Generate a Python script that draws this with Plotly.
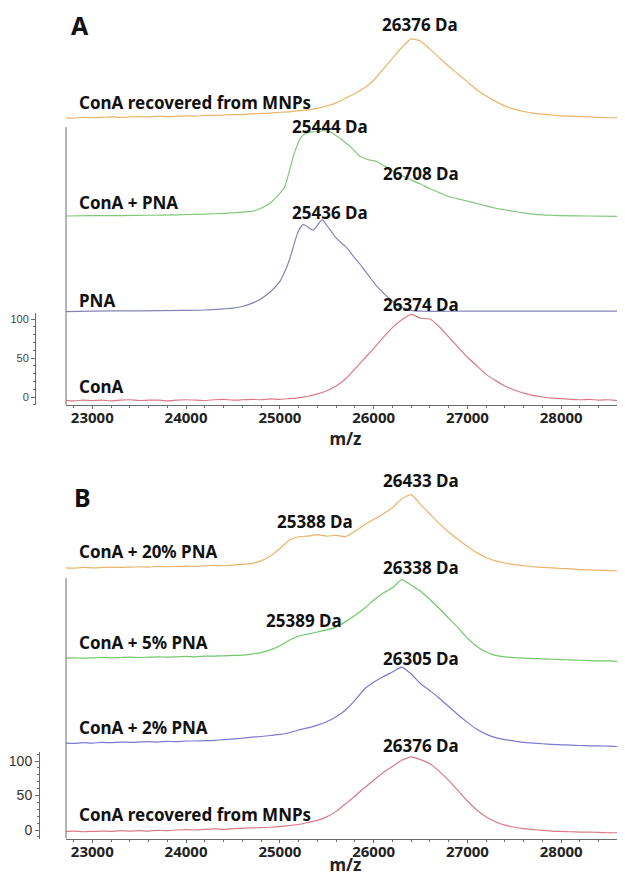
import plotly.graph_objects as go

# ---------------- data ----------------
MZ = [22700 + 100 * i for i in range(61)]  # common m/z grid (22700..28700)

# Panel A
A_CONA = [-4, -5, -4, -4.5, -4, -5, -4, -3.5, -4.5, -4, -4, -5, -4, -3.5, -4, -4.5, -3.5, -3, -4, -3.5,
          -3, -3.5, -2.5, -3, -2, -1, 1, 4, 8, 14, 23, 36, 49, 62, 76, 89, 99, 106, 101, 100,
          90, 77, 64, 51, 40, 29, 21, 14, 9, 5, 2, 0, -1.5, -2, -3, -3.5, -3, -4, -3.5, -4.5, -4]
A_PNA_X = [22700, 23000, 23500, 24000, 24200, 24400, 24500, 24600, 24700, 24800, 24900, 25000, 25050,
           25100, 25150, 25200, 25250, 25300, 25350, 25400, 25450, 25500, 25550, 25600, 25650, 25700,
           25750, 25800, 25850, 25900, 25950, 26000, 26050, 26100, 26150, 26200, 26250, 26300, 26350,
           26400, 26500, 27000, 28000, 28700]
A_PNA = [-0.5, 0, 0.5, 1, 1.5, 3, 4, 6, 10, 16, 25, 38, 50,
         65, 85, 103, 111, 108, 104, 110, 117, 110, 102, 94, 88, 83,
         76, 68, 61, 53, 45, 37, 30, 24, 18, 13, 8, 5, 3,
         1, 0, 0, 0, 0]
A_MIX_X = [22700, 23000, 23300, 23600, 23900, 24200, 24400, 24600, 24700, 24800, 24900, 25000, 25050,
           25100, 25150, 25200, 25250, 25300, 25350, 25400, 25450, 25500, 25550, 25600, 25650, 25700,
           25750, 25800, 25850, 25900, 25950, 26000, 26050, 26100, 26200, 26300, 26400, 26500, 26600,
           26700, 26800, 26900, 27000, 27100, 27200, 27300, 27400, 27500, 27600, 27700, 27800, 27900,
           28000, 28300, 28700]
A_MIX = [0, 0.5, 0.5, 1, 1.5, 2.5, 3.5, 5, 6, 10, 17, 29, 37,
         57, 79, 95, 104, 107, 108, 108.5, 109, 110, 107, 103, 99, 94,
         89, 83, 77, 74, 72, 71, 69, 65, 58, 52, 46, 41, 35,
         30, 25, 22, 19, 16, 13, 10, 8, 6, 4, 2.5, 1.5, 1,
         0.5, 0, -0.5]
A_RECOV = [0, -0.5, 0.5, 0, 0.5, 1, 0.5, 1, 1.5, 1, 2, 1.5, 2, 2.5, 2, 3, 3, 3.5, 4, 4,
           5, 5.5, 6, 7, 7.5, 9, 10, 12, 15, 19, 25, 31, 38, 48, 62, 76, 90, 101, 98, 88,
           77, 66, 56, 46, 36, 28, 21, 15, 11, 8, 6, 4.5, 3.5, 2.5, 2, 1.5, 1, 0.5, 0, 0, -0.5]

# Panel B
B_RECOV = [-2, -1.5, -2.5, -2, -1.5, -2, -1, -1.5, -1, -1.5, -0.5, -1, 0, 0.5, 0, 1, 1.5, 1, 2, 2.5,
           3, 3.5, 4, 5, 6.5, 8, 11, 14, 19, 27, 38, 49, 61, 72, 83, 92, 101, 106, 102, 96,
           85, 72, 57, 42, 29, 19, 12, 7, 4, 2, 0.5, -0.5, -1.5, -2, -2.5, -3, -3, -3.5, -4, -4, -4.5]
B_2PNA = [0, -0.5, 0.5, 0, 1, 0.5, 1.5, 1, 1.5, 2, 1.5, 2.5, 2, 3, 3, 3.5, 4, 5, 6, 7,
          8.5, 9.5, 11, 12.5, 15, 19, 22, 26, 31, 38, 48, 62, 78, 88, 96, 103, 110, 100, 86, 76,
          65, 53, 41, 30, 20, 13, 8, 5, 3, 1, 0, -1, -2, -2.5, -3, -3.5, -4, -4, -4.5, -5, -5]
B_5PNA = [0, 0.5, 0, 0.5, 1, 0.5, 1, 1.5, 1, 1.5, 2, 1.5, 2, 2.5, 2, 3, 3, 3.5, 4, 4.5,
          6, 8, 12, 18, 26, 32, 35, 38, 41, 45, 53, 62, 72, 84, 94, 102, 114, 106, 97, 85,
          72, 58, 44, 29, 17, 9, 4, 2, 1, 0, -0.5, -1, -1.5, -2, -2.5, -3, -3.5, -4, -4, -4.5, -5]
B_20PNA = [0, -0.5, 0.5, 0, 0.5, 1, 0.5, 1, 1.5, 1, 2, 1.5, 2, 2.5, 2, 3, 3.5, 3, 4, 5,
           6.5, 10, 17, 28, 40, 45, 46, 48, 46, 47, 45, 53, 62, 70, 78, 87, 100, 106, 92, 78,
           64, 52, 41, 31, 22, 15, 10, 7, 4.5, 3, 1.5, 0.5, 0, -1, -1.5, -2.5, -3, -3.5, -4, -4.5, -5]

# series: (name, x, y, vertical offset, colour, panel)
SERIES = [
    ("ConA", MZ, A_CONA, 0, "#d97b86", "A"),
    ("PNA", A_PNA_X, A_PNA, 110, "#8585b5", "A"),
    ("ConA + PNA", A_MIX_X, A_MIX, 232, "#80c878", "A"),
    ("ConA recovered from MNPs", MZ, A_RECOV, 358, "#eab46a", "A"),
    ("ConA recovered from MNPs", MZ, B_RECOV, 0, "#d97b86", "B"),
    ("ConA + 2% PNA", MZ, B_2PNA, 126, "#7a7ad0", "B"),
    ("ConA + 5% PNA", MZ, B_5PNA, 249, "#72c86a", "B"),
    ("ConA + 20% PNA", MZ, B_20PNA, 380, "#eab46a", "B"),
]

# trace labels (left) and peak labels
NAME_LABELS_A = [("ConA recovered from MNPs", 378), ("ConA + PNA", 249), ("PNA", 124), ("ConA", 13)]
PEAK_LABELS_A = [("26376 Da", 26494, 477), ("25444 Da", 25535, 347), ("26708 Da", 26505, 287),
                 ("25436 Da", 25535, 237), ("26374 Da", 26505, 119)]
NAME_LABELS_B = [("ConA + 20% PNA", 403), ("ConA + 5% PNA", 272), ("ConA + 2% PNA", 149),
                 ("ConA recovered from MNPs", 22)]
PEAK_LABELS_B = [("26433 Da", 26505, 507), ("25388 Da", 25375, 447), ("26338 Da", 26505, 380),
                 ("25389 Da", 25258, 304), ("26305 Da", 26505, 249), ("26376 Da", 26505, 123)]
X_TICKS = [23000, 24000, 25000, 26000, 27000, 28000]
Y_TICKS = [0, 50, 100]

# ---------------- figure ----------------
PAD = 8                      # page body margin of the browser
W, H = 625 - PAD, 876 - PAD
XR = [22720, 28680]
AX = "#6a6a6a"
LBL = "Noto Sans"


def fx(pix):
    return (pix - PAD) / W


def fy(pix):
    return 1 - (pix - PAD) / H


fig = go.Figure()
for name, xs, ys, off, col, panel in SERIES:
    ax = "x" if panel == "A" else "x2"
    ay = "y" if panel == "A" else "y2"
    smooth = name in ("PNA", "ConA + PNA")
    fig.add_trace(go.Scatter(x=xs, y=[v + off for v in ys], mode="lines", name=name,
                             line=dict(color=col, width=1.2,
                                       shape="spline", smoothing=0.8 if smooth else 0.5),
                             xaxis=ax, yaxis=ay, showlegend=False, hoverinfo="skip"))
# carrier traces for the intensity bracket axes
fig.add_trace(go.Scatter(x=[None], y=[None], xaxis="x", yaxis="y3", showlegend=False))
fig.add_trace(go.Scatter(x=[None], y=[None], xaxis="x2", yaxis="y4", showlegend=False))

xcommon = dict(range=XR, domain=[fx(66), 1], showline=True, linecolor=AX, linewidth=1,
               ticks="outside", ticklen=3, tickcolor=AX, tickvals=X_TICKS, tickformat="d",
               ticklabelstandoff=-4,
               minor=dict(ticks="outside", ticklen=2, dtick=200, tickcolor=AX),
               tickfont=dict(family=LBL, size=15, color="#222", weight="bold"),
               showgrid=False, zeroline=False,
               title=dict(text="m/z", font=dict(family=LBL, size=17, color="#222", weight="bold"),
                          standoff=3))
fig.update_layout(
    width=W, height=H, margin=dict(l=0, r=0, t=0, b=0),
    plot_bgcolor="rgba(0,0,0,0)", paper_bgcolor="white",
    xaxis=dict(anchor="y", **xcommon),
    xaxis2=dict(anchor="y2", **xcommon),
    yaxis=dict(domain=[fy(405), fy(15)], range=[-10.26, 489.7], visible=False),
    yaxis2=dict(domain=[fy(838.7), fy(465)], range=[-12.6, 529], visible=False),
    yaxis3=dict(domain=[fy(405), fy(313)], range=[-10.26, 107.7], anchor="free", position=fx(35),
                showline=True, linecolor=AX, linewidth=1, ticks="outside", ticklen=4, tickcolor=AX,
                tickvals=Y_TICKS, minor=dict(ticks="outside", ticklen=2, dtick=10, tickcolor=AX),
                tickfont=dict(family="Liberation Sans", size=11, color="#444"),
                showgrid=False, zeroline=False),
    yaxis4=dict(domain=[fy(838.7), fy(751.7)], range=[-12.6, 113.5], anchor="free", position=fx(39),
                showline=True, linecolor=AX, linewidth=1, ticks="outside", ticklen=4, tickcolor=AX,
                tickvals=Y_TICKS, minor=dict(ticks="outside", ticklen=2, dtick=10, tickcolor=AX),
                tickfont=dict(family="Liberation Sans", size=14, color="#333"),
                showgrid=False, zeroline=False),
)

# left spines (only up to the second trace, as in the original)
fig.add_shape(type="line", xref="x domain", yref="y", x0=0, x1=0, y0=-10.26, y1=346,
              line=dict(color=AX, width=1))
fig.add_shape(type="line", xref="x2 domain", yref="y2", x0=0, x1=0, y0=-12.6, y1=365,
              line=dict(color=AX, width=1))

lf = dict(family=LBL, size=17, color="#111", weight="bold")
for txt, yv in NAME_LABELS_A:
    fig.add_annotation(text=txt, x=22840, y=yv, xref="x", yref="y", showarrow=False,
                       xanchor="left", yanchor="middle", font=lf)
for txt, xv, yv in PEAK_LABELS_A:
    fig.add_annotation(text=txt, x=xv, y=yv, xref="x", yref="y", showarrow=False,
                       xanchor="center", yanchor="middle", font=lf)
for txt, yv in NAME_LABELS_B:
    fig.add_annotation(text=txt, x=22840, y=yv, xref="x2", yref="y2", showarrow=False,
                       xanchor="left", yanchor="middle", font=lf)
for txt, xv, yv in PEAK_LABELS_B:
    fig.add_annotation(text=txt, x=xv, y=yv, xref="x2", yref="y2", showarrow=False,
                       xanchor="center", yanchor="middle", font=lf)

pf = dict(family=LBL, size=25, color="#111", weight="bold")
fig.add_annotation(text="A", x=fx(80), y=fy(25), xref="paper", yref="paper", showarrow=False,
                   xanchor="center", yanchor="middle", font=pf)
fig.add_annotation(text="B", x=fx(82), y=fy(497), xref="paper", yref="paper", showarrow=False,
                   xanchor="center", yanchor="middle", font=pf)

fig.write_html("out.html")
